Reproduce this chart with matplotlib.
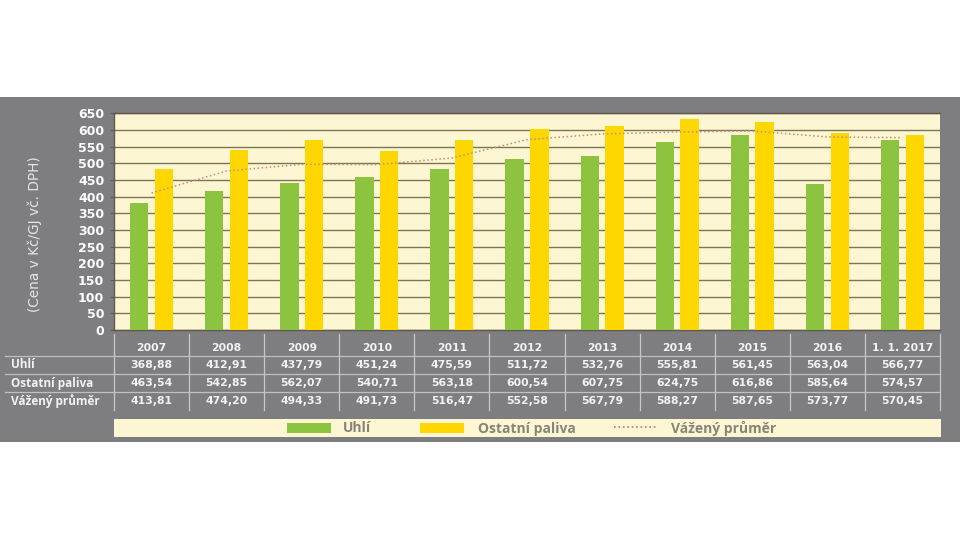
import numpy as np
import matplotlib
matplotlib.use("Agg")
import matplotlib.pyplot as plt
from matplotlib.patches import Rectangle

plt.rcParams['font.family'] = ['Open Sans', 'DejaVu Sans']

# data
years = ['2007', '2008', '2009', '2010', '2011', '2012', '2013', '2014', '2015', '2016', '1. 1. 2017']
# bar heights as drawn in the chart
uhli_bar = [380, 417, 440, 458, 482, 514, 522, 563, 586, 437, 571]
ostatni_bar = [483, 540, 569, 538, 570, 602, 613, 633, 624, 591, 586]
prumer_line = [411, 477, 497, 496, 516, 571, 588, 594, 597, 579, 577]
# values in the table below
row_names = ['Uhlí', 'Ostatní paliva', 'Vážený průměr']
uhli_tab = ['368,88', '412,91', '437,79', '451,24', '475,59', '511,72', '532,76', '555,81', '561,45', '563,04', '566,77']
ostatni_tab = ['463,54', '542,85', '562,07', '540,71', '563,18', '600,54', '607,75', '624,75', '616,86', '585,64', '574,57']
prumer_tab = ['413,81', '474,20', '494,33', '491,73', '516,47', '552,58', '567,79', '588,27', '587,65', '573,77', '570,45']

GREEN = '#8cc43f'
YELLOW = '#ffd700'
GRAY = '#7e7d80'
CREAM = '#fdf6d2'
LINE = '#c98a78'
NUMFONT = ['DejaVu Sans']

W, H = 960, 540
fig = plt.figure(figsize=(W / 100, H / 100), dpi=100)

# background layer in pixel coordinates
bg = fig.add_axes([0, 0, 1, 1])
bg.set_xlim(0, W)
bg.set_ylim(H, 0)
bg.axis('off')
bg.add_patch(Rectangle((0, 97), W, 345, color=GRAY, lw=0))

# plot area
x0, x1 = 114, 940
y_top, y_bot = 113.3, 330
ax = fig.add_axes([x0 / W, (H - y_bot) / H, (x1 - x0) / W, (y_bot - y_top) / H])
ax.set_facecolor(CREAM)
n = len(years)
x = np.arange(n)
ax.bar(x - 0.165, uhli_bar, 0.245, color=GREEN, zorder=3)
ax.bar(x + 0.165, ostatni_bar, 0.245, color=YELLOW, zorder=3)
ax.plot(x, prumer_line, ls=':', color=LINE, lw=1.1, zorder=4)
ax.set_xlim(-0.5, n - 0.5)
ax.set_ylim(0, 650)
ax.set_yticks(np.arange(0, 651, 50))
ax.yaxis.grid(True, color='#7d7558', lw=1.0)
ax.set_axisbelow(True)
ax.set_xticks([])
ax.spines['right'].set_visible(False)
for s in ['left', 'bottom', 'top']:
    ax.spines[s].set_color('#5e5a4c')
    ax.spines[s].set_linewidth(1.0)
ax.tick_params(axis='y', length=3, color='#5e5a4c', labelcolor='white', labelsize=9, pad=4)
for lab in ax.get_yticklabels():
    lab.set_fontweight('bold')
    lab.set_family(NUMFONT)

fig.text(35 / W, 1 - 234 / H, '(Cena v Kč/GJ vč. DPH)', rotation=90, ha='center', va='center',
         color='#e6e6e6', fontsize=9.8, family=NUMFONT)

# table
col_w = (x1 - x0) / n
for i in range(n + 1):
    xv = x0 + i * col_w
    bg.plot([xv, xv], [334, 410], color='#c8c8c8', lw=0.9)
for yv in [356, 374, 392]:
    bg.plot([5, x1], [yv, yv], color='#c0c0c0', lw=0.9)

row_y = [365, 383, 401]
for name, ry in zip(row_names, row_y):
    bg.text(11, ry, name, ha='left', va='center', color='#f2f2f2', fontsize=8.5, fontweight='bold')
for i in range(n):
    cx = x0 + (i + 0.5) * col_w
    bg.text(cx, 348, years[i], ha='center', va='center', color='#f2f2f2', fontsize=7.8,
            fontweight='bold', family=NUMFONT)
    for vals, ry in zip([uhli_tab, ostatni_tab, prumer_tab], row_y):
        bg.text(cx, ry, vals[i], ha='center', va='center', color='#f2f2f2', fontsize=7.8,
                fontweight='bold', family=NUMFONT)

# legend strip
bg.add_patch(Rectangle((x0, 419), 827, 18, color=CREAM, lw=0))
bg.add_patch(Rectangle((287, 423), 44, 10, color=GREEN, lw=0))
bg.add_patch(Rectangle((420, 423), 44, 10, color=YELLOW, lw=0))
bg.plot([614, 658], [427, 427], ls=':', color='#d0706a', lw=1.2)
leg_col = '#858579'
bg.text(343, 428.5, 'Uhlí', ha='left', va='center', color=leg_col, fontsize=10, fontweight='bold')
bg.text(478, 428.5, 'Ostatní paliva', ha='left', va='center', color=leg_col, fontsize=10, fontweight='bold')
bg.text(671, 428.5, 'Vážený průměr', ha='left', va='center', color=leg_col, fontsize=10, fontweight='bold')

fig.savefig('out.png', dpi=100)
